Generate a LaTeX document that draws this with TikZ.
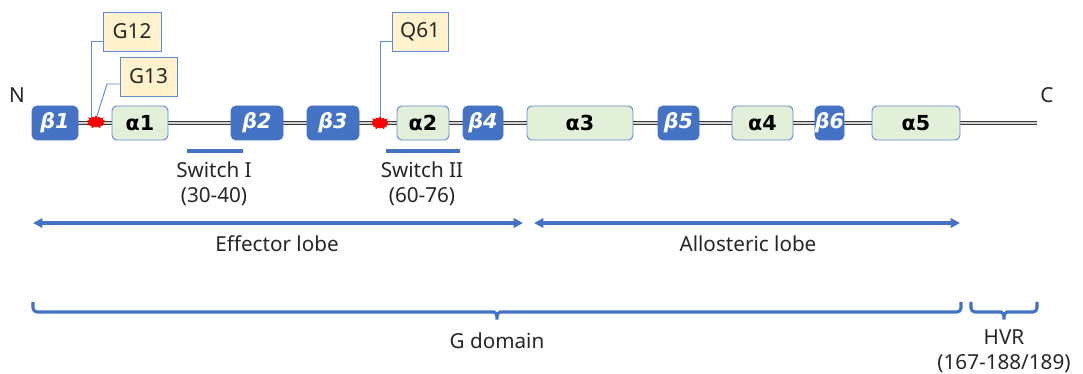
\documentclass[tikz,border=0pt]{standalone}
\usepackage{fontspec}
\setmainfont{Noto Sans}
\newfontfamily\boxfont{DejaVu Sans}
\usetikzlibrary{arrows.meta,shapes.symbols,backgrounds}
\definecolor{bblue}{HTML}{4472C4}
\definecolor{agreen}{HTML}{E2F0D9}
\definecolor{aborder}{HTML}{5B8BD0}
\definecolor{cfill}{HTML}{FFF2CC}
\definecolor{txt}{HTML}{262626}
\definecolor{bbdark}{HTML}{3A3A3A}
\definecolor{bblight}{HTML}{D0D0D0}
\newcommand{\lab}{\fontsize{15.5}{19}\selectfont}
\newcommand{\blab}{\fontsize{15.5}{18}\selectfont}
\tikzset{
  bstrand/.style={rectangle, rounded corners=3.5pt, fill=bblue, draw=bblue, text=white,
    font=\boxfont\blab\bfseries\itshape, minimum height=25.5pt, inner sep=0pt},
  ahelix/.style={rectangle, rounded corners=3.5pt, fill=agreen, draw=aborder, line width=0.7pt,
    text=black, font=\boxfont\blab\bfseries, minimum height=25.5pt, inner sep=0pt},
  callout/.style={rectangle, fill=cfill, draw=aborder, line width=0.7pt, text=txt,
    font=\lab, minimum height=29.25pt, inner sep=0pt},
  leader/.style={draw=aborder, line width=0.7pt},
  mut/.style={starburst, starburst points=14, starburst point height=2.2pt, fill=red, draw=none,
    minimum width=15pt, minimum height=11pt, inner sep=0pt},
  backbone/.style={draw=bbdark, double=bblight, line width=0.6pt, double distance=1.4pt},
  switchbar/.style={draw=bblue, line width=2.3pt},
  lobe/.style={draw=bblue, line width=2.3pt, {Triangle[length=7pt,width=7pt]}-{Triangle[length=7pt,width=7pt]}},
  brace/.style={draw=bblue, line width=2.3pt, rounded corners=3pt},
  lbl/.style={text=txt, font=\lab, inner sep=0pt, align=center},
}
\begin{document}
\begin{tikzpicture}[x=0.75pt,y=-0.75pt]
\useasboundingbox (0,0) rectangle (1083,374);
% secondary structure elements
\node[bstrand, minimum width=34.5pt]  (b1) at (55,123)    {β1};
\node[ahelix,  minimum width=42pt]    (a1) at (140,123)   {α1};
\node[bstrand, minimum width=39pt]    (b2) at (257,123)   {β2};
\node[bstrand, minimum width=39pt]    (b3) at (333,123)   {β3};
\node[ahelix,  minimum width=39pt]    (a2) at (423,123)   {α2};
\node[bstrand, minimum width=30pt]    (b4) at (483,123)   {β4};
\node[ahelix,  minimum width=79.5pt]  (a3) at (580,123)   {α3};
\node[bstrand, minimum width=30.75pt] (b5) at (678.5,123) {β5};
\node[ahelix,  minimum width=45.75pt] (a4) at (762.5,123) {α4};
\node[bstrand, minimum width=21.75pt] (b6) at (829.5,123) {β6};
\node[ahelix,  minimum width=66pt]    (a5) at (916,123)   {α5};
\coordinate (cend) at (1037,123);
\node[lbl] (N) at (17,95) {N};
\node[lbl] (C) at (1047,95) {C};
% mutation sites
\node[mut] (s1) at (96,122) {};
\node[mut] (s2) at (380,123) {};
% backbone
\begin{scope}[on background layer]
\draw[backbone] (b1.east) -- (cend);
\end{scope}
% callouts
\node[callout, minimum width=43.5pt]  (g12) at (132,31.5)  {G12};
\node[callout, minimum width=42.75pt] (g13) at (148.5,76.5) {G13};
\node[callout, minimum width=42pt]    (q61) at (420,31.5)  {Q61};
\coordinate (g12k) at (91,41);
\coordinate (g13k) at (107,84);
\coordinate (q61k) at (380,41);
\coordinate (s1a) at (91,119);
\coordinate (s1b) at (96,119);
\draw[leader] (g12.west |- g12k) -- (g12k) -- (s1a);
\draw[leader] (g13.west |- g13k) -- (g13k) -- (s1b);
\draw[leader] (q61.west |- q61k) -- (q61k) -- (s2.center);
\node[mut] at (s1) {};
\node[mut] at (s2) {};
% switches
\coordinate (sw1a) at (187,151); \coordinate (sw1b) at (243,151);
\coordinate (sw2a) at (386,151); \coordinate (sw2b) at (460,151);
\draw[switchbar] (sw1a) -- (sw1b);
\draw[switchbar] (sw2a) -- (sw2b);
\node[lbl] (sw1) at (214,184) {Switch I\\(30-40)};
\node[lbl] (sw2) at (422,184) {Switch II\\(60-76)};
% lobes
\coordinate (e1) at (33,223); \coordinate (e2) at (523,223);
\coordinate (l1) at (534,223); \coordinate (l2) at (960,223);
\draw[lobe] (e1) -- (e2);
\draw[lobe] (l1) -- (l2);
\node[lbl] (eff) at (277,244) {Effector lobe};
\node[lbl] (allo) at (748,244) {Allosteric lobe};
% braces
\coordinate (gd1) at (33,302); \coordinate (gd2) at (961,302);
\coordinate (gtip) at (497,322);
\draw[brace] (gd1) -- (33,312) -- (490,312)
  .. controls (495,312) and (497,314) .. (gtip)
  .. controls (497,314) and (499,312) .. (504,312) -- (961,312) -- (gd2);
\node[lbl] (gdom) at (497,341) {G domain};
\coordinate (h1) at (971,302); \coordinate (h2) at (1037,302);
\coordinate (htip) at (1004,322);
\draw[brace] (h1) -- (971,312) -- (997,312)
  .. controls (1002,312) and (1004,314) .. (htip)
  .. controls (1004,314) and (1006,312) .. (1011,312) -- (1037,312) -- (h2);
\node[lbl] (hvr) at (1004,351) {HVR\\(167-188/189)};
\end{tikzpicture}
\end{document}
